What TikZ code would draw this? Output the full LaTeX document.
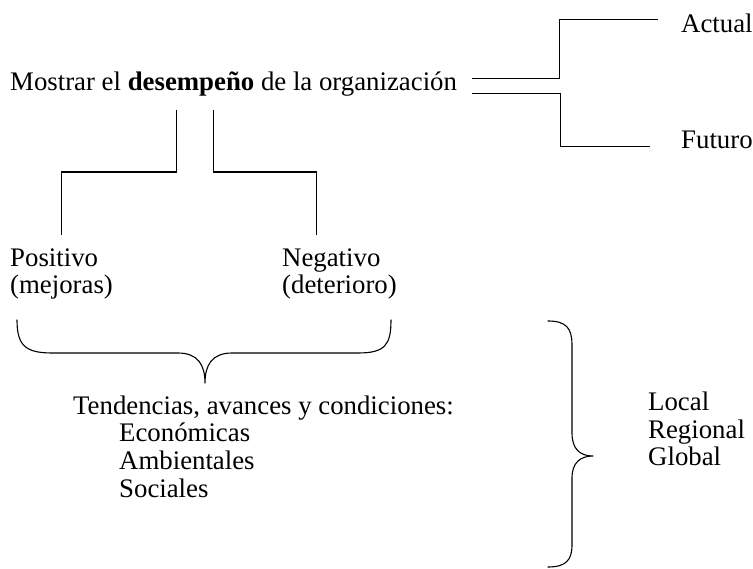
\documentclass[tikz,border=0pt]{standalone}
\usepackage{fontspec}
\setmainfont{Liberation Serif}

\begin{document}
\begin{tikzpicture}[
    x=1pt, y=-1pt,
    every node/.style={font=\fontsize{26.8}{27.6}\selectfont,
                       inner sep=0pt, anchor=base west, align=left},
    conn/.style={line width=1.1pt},
    brace/.style={line width=1.1pt, line join=round, line cap=round}
  ]
  \useasboundingbox (0,0) rectangle (753,569);

  % base = baseline of the last line
  \node (main)   at (10,91)    {Mostrar el \textbf{desempeño} de la organización};
  \node (actual) at (681,33)   {Actual};
  \node (futuro) at (681,149)  {Futuro};
  \node (pos)    at (10,294)   {Positivo\\(mejoras)};
  \node (neg)    at (282,294)  {Negativo\\(deterioro)};
  \node (tend)   at (73,497)   {Tendencias, avances y condiciones:\\
                                \hspace*{46pt}Económicas\\
                                \hspace*{46pt}Ambientales\\
                                \hspace*{46pt}Sociales};
  \node (escala) at (648,466)  {Local\\Regional\\Global};

  % desempeno -> actual / futuro
  \draw[conn] ([xshift=15pt,yshift=6pt]main.east) -- ++(87,0)
              |- ([xshift=-23pt,yshift=4pt]actual.west);
  \draw[conn] ([xshift=15pt,yshift=-9pt]main.east) -- ++(88,0)
              |- ([xshift=-31pt,yshift=-6pt]futuro.west);

  % desempeno -> positivo / negativo
  \draw[conn] ([xshift=-57pt,yshift=-13pt]main.south) -- ++(0,62)
              -| ([yshift=13pt]pos.north);
  \draw[conn] ([xshift=-20pt,yshift=-13pt]main.south) -- ++(0,62)
              -| ([xshift=-23pt,yshift=13pt]neg.north);

  % llave inferior
  \draw[brace] (17,320) .. controls (17,345) and (25,353) .. (52,353)
               -- (178,353) .. controls (198,353) and (205,365) .. (205,383)
               .. controls (205,365) and (212,353) .. (232,353)
               -- (358,353) .. controls (385,353) and (391,345) .. (391,320);

  % llave derecha
  \draw[brace] (548,321) .. controls (566,321) and (572,328) .. (572,345)
               -- (572,433) .. controls (572,449) and (580,456) .. (593,456)
               .. controls (580,456) and (572,463) .. (572,478)
               -- (572,545) .. controls (572,560) and (566,567) .. (548,567);
\end{tikzpicture}
\end{document}
